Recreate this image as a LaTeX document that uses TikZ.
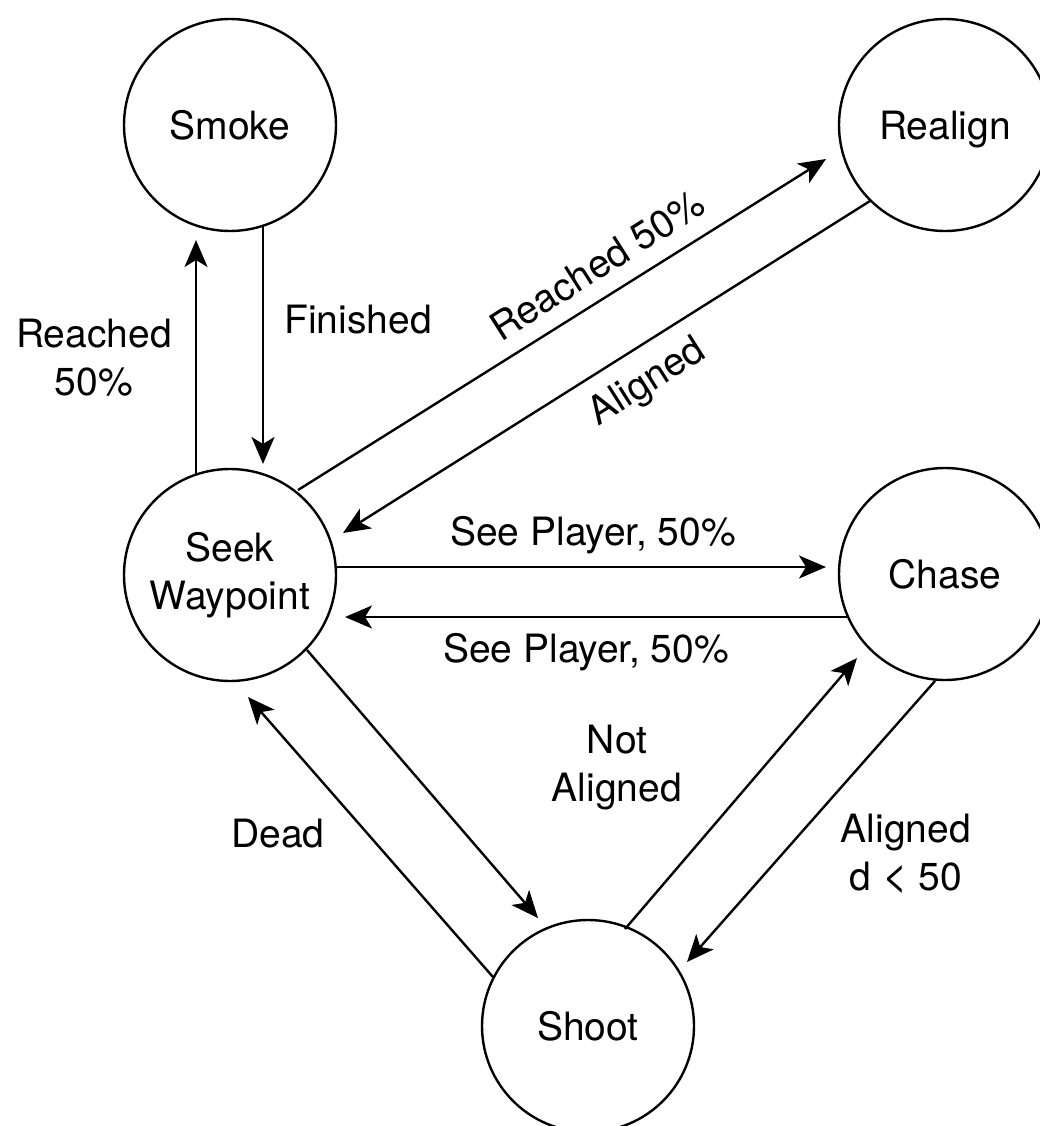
\documentclass[tikz,border=0pt]{standalone}
\usepackage{fontspec}
\setmainfont{TeX Gyre Heros}
\usetikzlibrary{arrows.meta,calc}
\newcommand\lblfont{\fontsize{39}{48}\selectfont}
\begin{document}
\begin{tikzpicture}[x=1pt,y=-1pt,
  state/.style={circle,draw,line width=2.4pt,minimum size=212pt,inner sep=0pt,outer sep=0pt,font=\lblfont,align=center},
  arr/.style={line width=2.4pt,-{Stealth[length=27pt,width=23pt,inset=7pt]}},
  lbl/.style={font=\lblfont,anchor=base,inner sep=0pt},
  rlbl/.style={font=\lblfont,anchor=center,inner sep=0pt,rotate=32.4}]
\useasboundingbox (0,0) rectangle (1040,1126);
\fill[white] (0,0) rectangle (1040,1126);
\node[state] (smoke) at (230,125) {Smoke};
\node[state,text depth=0pt] (realign) at (945,125) {Realign};
\node[state] (seek) at (230,575) {Seek\\Waypoint};
\node[state] (chase) at (945,574) {Chase};
\node[state] (shoot) at (588,1026) {Shoot};
% connectors
\draw[arr] ($(seek)+(-34,-100)$) -- ($(smoke)+(-34,115)$);
\draw[arr] ($(smoke)+(33,100)$) -- ($(seek)+(33,-111)$);
\draw[arr] ($(seek)+(68,-85)$) -- ($(realign)+(-119,34)$);
\draw[arr] ($(realign)+(-75,76)$) -- ($(seek)+(113,-42)$);
\draw[arr] ($(seek)+(106,-8)$) -- ($(chase)+(-119,-7)$);
\draw[arr] ($(chase)+(-98,43)$) -- ($(seek)+(115,42)$);
\draw[arr] ($(seek)+(77,75)$) -- ($(shoot)+(-50,-108)$);
\draw[arr] ($(shoot)+(-95,-49)$) -- ($(seek)+(18,122)$);
\draw[arr] ($(shoot)+(37,-97)$) -- ($(chase)+(-88,84)$);
\draw[arr] ($(chase)+(-10,107)$) -- ($(shoot)+(99,-64)$);
% labels
\node[lbl] (lreach) at (94,347) {\begin{tabular}[t]{@{}c@{}}Reached\\50\%\end{tabular}};
\node[lbl] (lfin) at (358,333) {Finished};
\node[rlbl] (lreach2) at (597,265) {Reached 50\%};
\node[rlbl] (lalig) at (648,383) {Aligned};
\node[lbl] (lsee1) at (593,545) {See Player, 50\%};
\node[lbl] (lsee2) at (586,662) {See Player, 50\%};
\node[lbl] (lnot) at (617,753) {\begin{tabular}[t]{@{}c@{}}Not\\Aligned\end{tabular}};
\node[lbl] (ldead) at (278,847) {Dead};
\node[lbl] (ld50) at (906,842) {\begin{tabular}[t]{@{}c@{}}Aligned\\d {\fontsize{44}{48}\selectfont<} 50\end{tabular}};
\end{tikzpicture}
\end{document}
